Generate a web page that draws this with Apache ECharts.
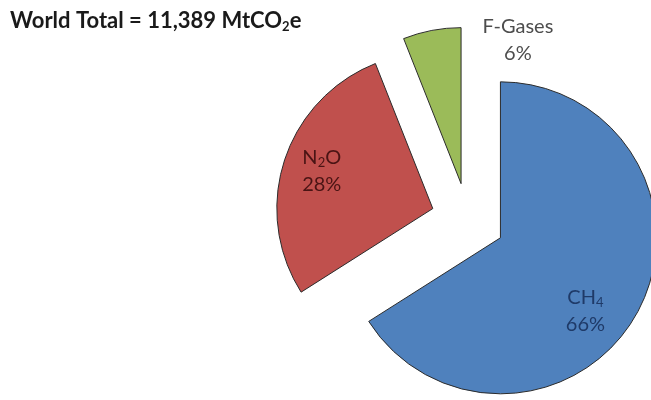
<!DOCTYPE html>
<html>
<head>
<meta charset="utf-8">
<script src="https://cdn.jsdelivr.net/npm/echarts@6/dist/echarts.min.js"></script>
<style>
	html, body { margin: 0; padding: 0; background: #fff; }
	#chart { width: 651px; height: 400px; }
</style>
</head>
<body>
<div id="chart"></div>
<script>
	// 数据
	var names = ['CH4', 'N2O', 'F-Gases'];
	var shares = [66, 28, 6];
	var colors = ['#4f81bd', '#c0504d', '#9bbb59'];
	var labelColors = ['#1f3a68', '#4a1414', '#4d4d4d'];
	var worldTotal = '11,389';

	// 标签文字（下标用富文本）
	var labelText = {
		'CH4': '{t|CH}{s|4}\n{t|66%}',
		'N2O': '{t|N}{s|2}{t|O}\n{t|28%}',
		'F-Gases': '{t|F-Gases}\n{t|6%}'
	};

	var pieData = [];
	for (var i = 0; i < names.length; i++) {
		pieData.push({
			name: names[i],
			value: shares[i],
			selected: true,
			itemStyle: { color: colors[i] },
			label: { color: labelColors[i] }
		});
	}

	// 标签微调
	var labelShift = {
		'CH4': [14, 34],
		'N2O': [-34, -12],
		'F-Gases': [72, -64]
	};

	var myChart = echarts.init(document.getElementById('chart'));
	var option = {
		animation: false,
		title: {
			text: '{b|World Total = ' + worldTotal + ' MtCO}{bs|2}{b|e}',
			left: 5,
			top: 4,
			textStyle: {
				rich: {
					b: { fontFamily: 'Lato', fontWeight: 'bold', fontSize: 22, color: '#1a1a1a', lineHeight: 24 },
					bs: { fontFamily: 'Lato', fontWeight: 'bold', fontSize: 13, color: '#1a1a1a', lineHeight: 24, padding: [11, 0, 0, 0] }
				}
			}
		},
		series: [{
			type: 'pie',
			center: [468, 220],
			radius: [0, 156],
			startAngle: 90,
			clockwise: true,
			selectedMode: 'multiple',
			selectedOffset: 37,
			emphasis: { disabled: true },
			select: { disabled: false },
			itemStyle: {
				borderColor: '#2b2b2b',
				borderWidth: 1
			},
			label: {
				show: true,
				position: 'inside',
				formatter: function(p) {
					return labelText[p.name];
				},
				rich: {
					t: { fontFamily: 'Lato', fontSize: 20, lineHeight: 27, align: 'center' },
					s: { fontFamily: 'Lato', fontSize: 13, lineHeight: 27, padding: [10, 0, 0, 0] }
				}
			},
			labelLine: { show: false },
			labelLayout: function(params) {
				var sh = labelShift[names[params.dataIndex]];
				return { dx: sh[0], dy: sh[1] };
			},
			data: pieData
		}]
	};
	myChart.setOption(option);
</script>
</body>
</html>
